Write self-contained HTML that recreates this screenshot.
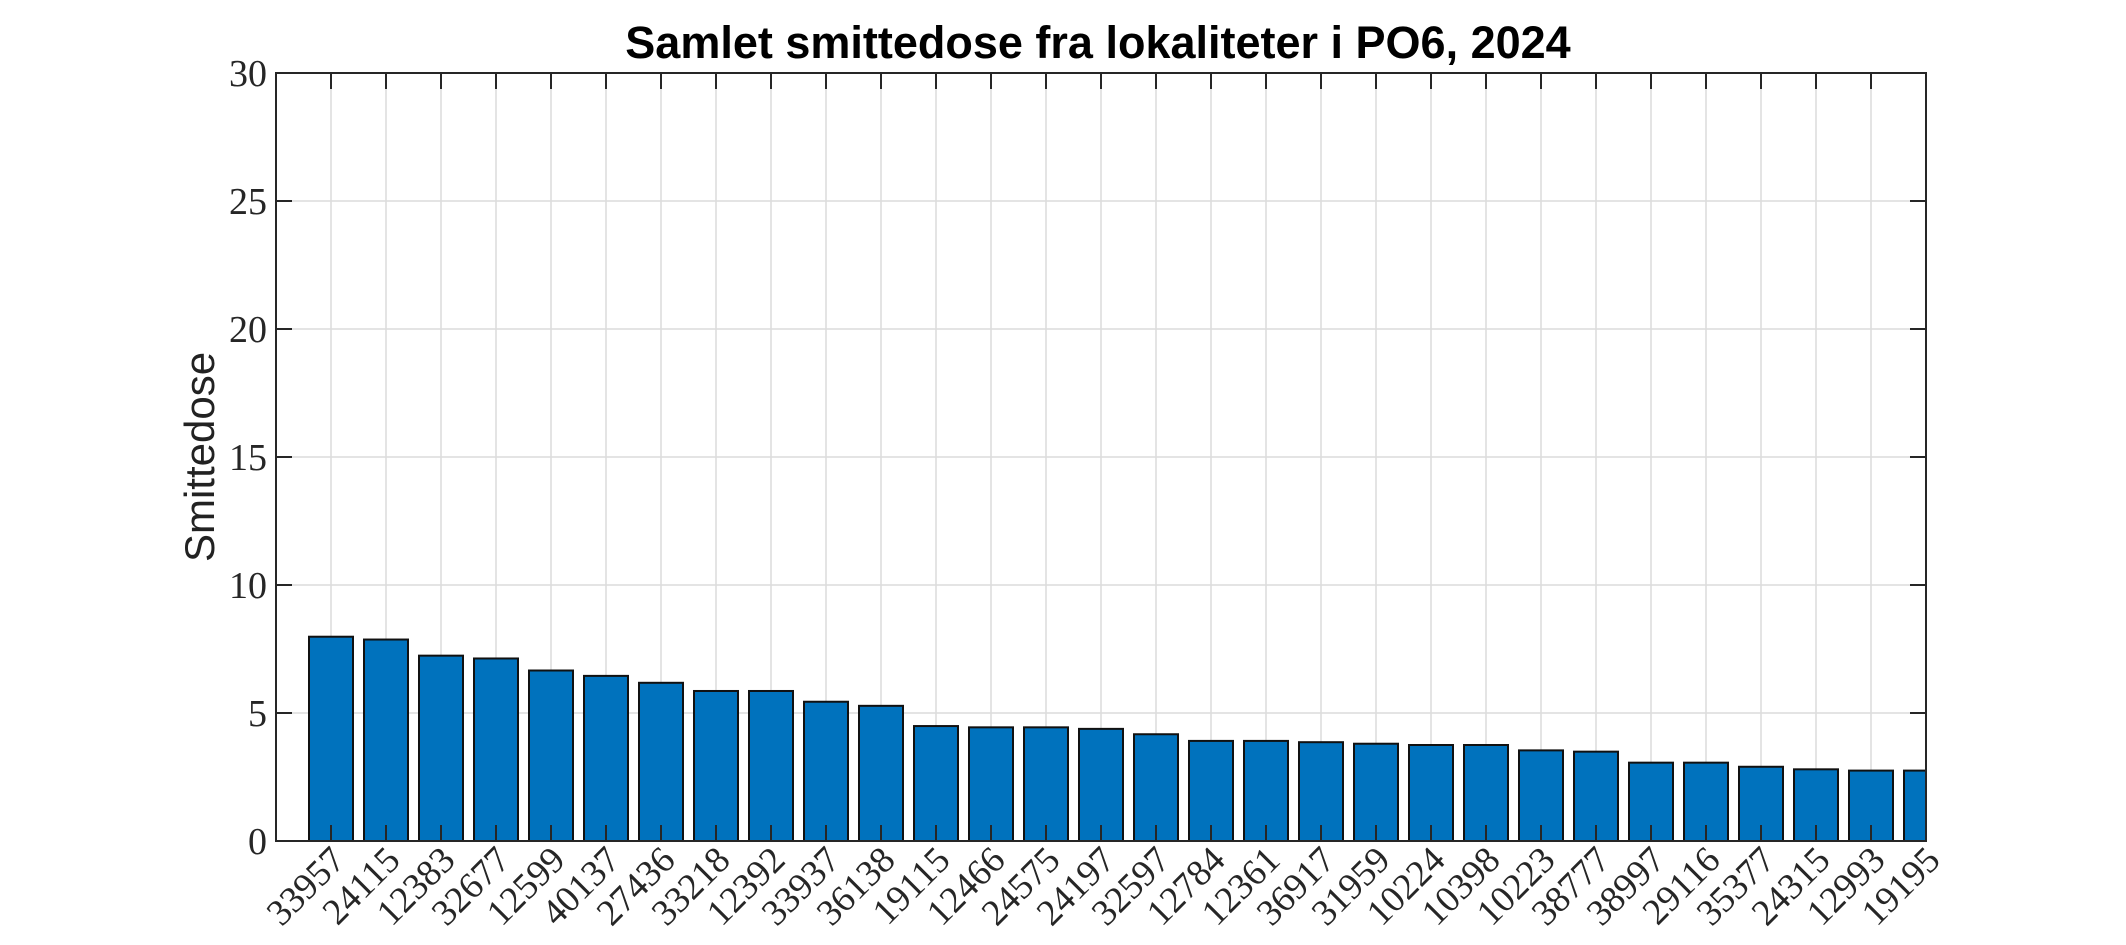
<!DOCTYPE html>
<html><head><meta charset="utf-8"><style>
html,body{margin:0;padding:0;background:#fff}
svg{display:block}
</style></head><body>
<svg id="chart" width="2126" height="945" viewBox="0 0 2126 945" xmlns="http://www.w3.org/2000/svg">
<rect x="0" y="0" width="2126" height="945" fill="#fff"/>
<text x="1098" y="58" text-anchor="middle" font-family="Liberation Sans, Arial, sans-serif" font-weight="bold" font-size="45" fill="#000">Samlet smittedose fra lokaliteter i PO6, 2024</text>
<text transform="translate(214,457) rotate(-90)" text-anchor="middle" font-family="Liberation Sans, Arial, sans-serif" font-size="42" fill="#222">Smittedose</text>
<g id="grid"></g>
<g id="bars"></g>
<g id="axes"></g>
</svg>
<script>
const categories = ["33957","24115","12383","32677","12599","40137","27436","33218","12392","33937","36138","19115","12466","24575","24197","32597","12784","12361","36917","31959","10224","10398","10223","38777","38997","29116","35377","24315","12993","19195"];
const values = [7.98,7.87,7.24,7.13,6.66,6.45,6.18,5.86,5.86,5.44,5.28,4.49,4.44,4.44,4.38,4.17,3.91,3.91,3.86,3.80,3.75,3.75,3.54,3.49,3.06,3.06,2.90,2.80,2.75,2.75];
const yTicks = [0,5,10,15,20,25,30];

const NS = "http://www.w3.org/2000/svg";
const L = 276, R = 1926, T = 73, B = 841;
const xMin = 0, xMax = 30, yMin = 0, yMax = 30;
const xs = i => L + ((i + 1) - xMin) / (xMax - xMin) * (R - L);
const ys = v => B - (v - yMin) / (yMax - yMin) * (B - T);
const step = (R - L) / (xMax - xMin);
const bw = step * 0.8;

function mk(tag, attrs, parent) {
  const e = document.createElementNS(NS, tag);
  for (const k in attrs) e.setAttribute(k, attrs[k]);
  parent.appendChild(e);
  return e;
}
const grid = document.getElementById('grid');
const bars = document.getElementById('bars');
const axes = document.getElementById('axes');

categories.forEach((c, i) => {
  const g = mk('line', {x1: xs(i), x2: xs(i), y1: T, y2: B, stroke: '#dcdcdc', 'stroke-width': 1.5}, grid);
  
  
});
yTicks.forEach(v => {
  const g = mk('line', {x1: L, x2: R, y1: ys(v), y2: ys(v), stroke: '#dcdcdc', 'stroke-width': 1.5}, grid);
  
  
});

values.forEach((v, i) => {
  const x0 = Math.max(L, xs(i) - bw / 2), x1 = Math.min(R, xs(i) + bw / 2);
  const r = mk('rect', {x: x0, y: ys(v), width: x1 - x0, height: ys(0) - ys(v), fill: '#0072BD', stroke: '#111', 'stroke-width': 2}, bars);
  
  
});

const box = mk('rect', {x: L, y: T, width: R - L, height: B - T, fill: 'none', stroke: '#262626', 'stroke-width': 2}, axes);



categories.forEach((c, i) => {
  const x = xs(i);
  const t1 = mk('line', {x1: x, x2: x, y1: B, y2: B - 16, stroke: '#262626', 'stroke-width': 2}, axes);
  
  
  const t2 = mk('line', {x1: x, x2: x, y1: T, y2: T + 16, stroke: '#262626', 'stroke-width': 2}, axes);
  
  
  const ax = x + 16, ay = 862;
  const lab = mk('text', {x: ax, y: ay, transform: `rotate(-45 ${ax} ${ay})`, 'text-anchor': 'end', 'font-family': 'Liberation Serif, serif', 'font-size': 37, fill: '#262626'}, axes);
  lab.textContent = c;
  
  
});

yTicks.forEach(v => {
  const y = ys(v);
  const t1 = mk('line', {x1: L, x2: L + 16, y1: y, y2: y, stroke: '#262626', 'stroke-width': 2}, axes);
  
  
  const t2 = mk('line', {x1: R, x2: R - 16, y1: y, y2: y, stroke: '#262626', 'stroke-width': 2}, axes);
  
  
  const lab = mk('text', {x: L - 9, y: y + 13, 'text-anchor': 'end', 'font-family': 'Liberation Serif, serif', 'font-size': 38, fill: '#262626'}, axes);
  lab.textContent = String(v);
  
  
});
</script>
</body></html>
